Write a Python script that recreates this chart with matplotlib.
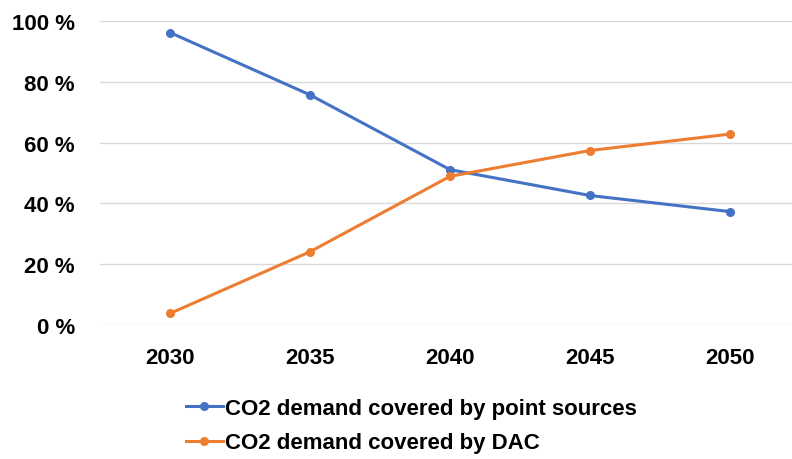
import matplotlib.pyplot as plt

years = ["2030", "2035", "2040", "2045", "2050"]
point_sources = [96.2, 75.7, 51.1, 42.6, 37.3]
dac = [3.8, 24.1, 48.9, 57.4, 62.8]
yticks = [0, 20, 40, 60, 80, 100]

plt.rcParams["font.family"] = ["Liberation Sans", "DejaVu Sans"]

fig = plt.figure(figsize=(7.92, 4.6), dpi=100)
ax = fig.add_axes([100 / 792, 134 / 460, 700 / 792, 304 / 460])

x = range(len(years))
ax.plot(x, point_sources, color="#4472C4", lw=2.2, marker="o", ms=5.5,
        label="CO2 demand covered by point sources")
ax.plot(x, dac, color="#ED7D31", lw=2.2, marker="o", ms=5.5,
        label="CO2 demand covered by DAC")

ax.set_xlim(-0.5, len(years) - 0.5)
ax.set_ylim(0, 100)
ax.set_yticks(yticks)
ax.set_yticklabels([f"{v} %" for v in yticks])
ax.set_xticks(list(x))
ax.set_xticklabels(years)
ax.grid(axis="y", color="#d9d9d9", lw=1)
ax.set_axisbelow(True)
for s in ax.spines.values():
    s.set_visible(False)
ax.tick_params(length=0, labelsize=16)
ax.tick_params(axis="y", pad=18)
ax.tick_params(axis="x", pad=16)
for t in ax.get_xticklabels() + ax.get_yticklabels():
    t.set_fontweight("bold")

leg = fig.legend(loc="upper left", bbox_to_anchor=(166 / 792, 1 - 379 / 460),
                 frameon=False, handlelength=1.65, handletextpad=0.1,
                 labelspacing=0.6, prop={"size": 16, "weight": "bold"})

fig.savefig("out.png", dpi=100)
